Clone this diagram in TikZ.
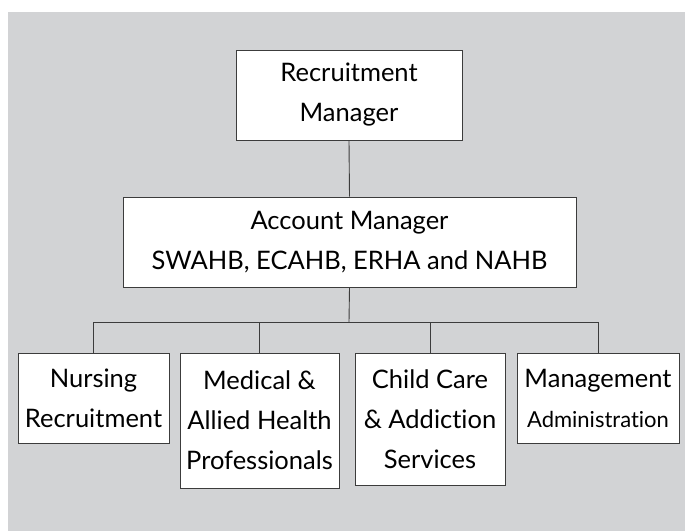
\documentclass[tikz,border=0pt]{standalone}
\usepackage{fontspec}
\setmainfont{Lato}[Ligatures={NoCommon}]
\definecolor{bggray}{RGB}{210,211,213}
\definecolor{linegray}{RGB}{60,60,60}
\tikzset{
  orgbox/.style={draw=linegray, line width=0.9pt, fill=white, align=center,
    inner sep=0pt, font=\fontsize{25.5}{40}\selectfont},
  link/.style={draw=linegray, line width=0.9pt}
}
\begin{document}
\begin{tikzpicture}[x=1pt, y=-1pt]
      \useasboundingbox (0,0) rectangle (685,531);
      \fill[bggray] (8,12) rectangle (685,531);

      \node[orgbox, minimum width=226pt, minimum height=90pt] (mgr) at (349,95) {Recruitment\\Manager};
      \node[orgbox, minimum width=453pt, minimum height=90pt] (acct) at (349.5,242) {Account Manager\\SWAHB, ECAHB, ERHA and NAHB};

      \node[orgbox, minimum width=151pt, minimum height=90pt] (nurs) at (93.5,398) {Nursing\\Recruitment};
      \node[orgbox, minimum width=159pt, minimum height=135pt] (med) at (259.5,420.5) {Medical \&\\Allied Health\\Professionals};
      \node[orgbox, minimum width=150pt, minimum height=132pt] (care) at (430,419) {Child Care\\\& Addiction\\Services};
      \node[orgbox, minimum width=162pt, minimum height=90pt] (admin) at (598,398) {Management\\{\fontsize{22}{40}\selectfont Administration}};

      \coordinate (bar) at (349,322);
      \draw[link] (mgr.south) -- (acct.north);
      \draw[link] (acct.south) -- (bar);
      \foreach \sub in {nurs,med,care,admin}
        \draw[link] (bar) -| (\sub.north);
\end{tikzpicture}
\end{document}
